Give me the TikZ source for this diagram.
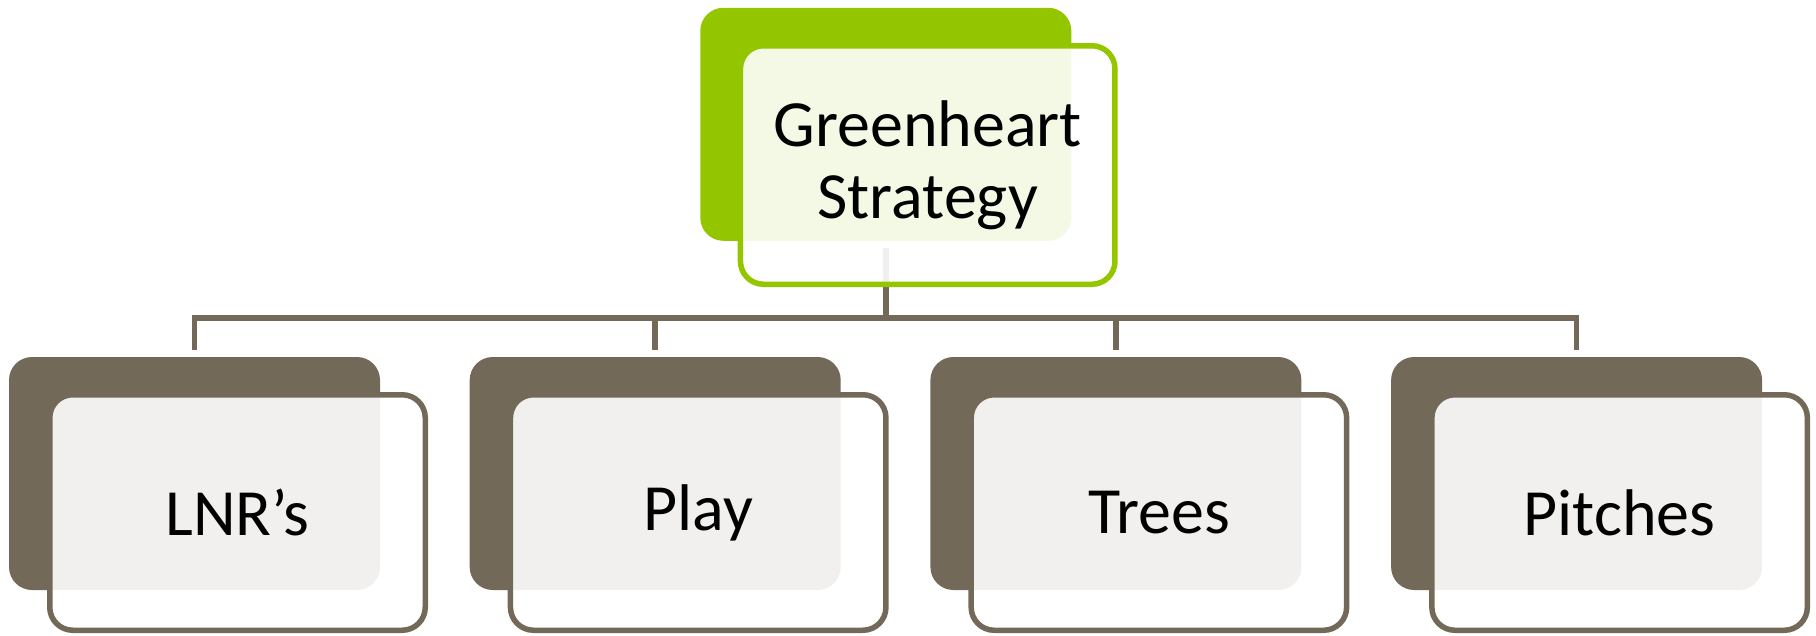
\documentclass[tikz,border=0pt]{standalone}
\usepackage{fontspec}
\setmainfont{Carlito}
\usetikzlibrary{calc,backgrounds}
\definecolor{leaf}{HTML}{94C600}
\definecolor{bark}{HTML}{736959}
\tikzset{
  backbox/.style={rectangle, rounded corners=23pt, minimum width=371pt, minimum height=233pt, inner sep=0pt, draw=none},
  frontbox/.style={rectangle, rounded corners=23pt, minimum width=375.5pt, minimum height=235.5pt, inner sep=0pt,
    line width=5.5pt, fill=white, fill opacity=0.9, text opacity=1, text=black, align=center,
    font=\fontsize{66}{72}\selectfont},
  conn/.style={draw=bark, line width=5.5pt},
}
\begin{document}
\begin{tikzpicture}[x=1pt, y=-1pt]
  \useasboundingbox (0,0) rectangle (1816,635);

  % root: Greenheart Strategy
  \node[backbox, fill=leaf] (rb) at (885.8,124.3) {};
  \node[frontbox, draw=leaf, minimum width=374.5pt, minimum height=238.5pt] (rf) at (927.7,165) {Greenheart\\Strategy};

  % four children
  \foreach \i/\lbl in {1/LNR’s, 2/Play, 3/Trees, 4/Pitches}{
    \node[backbox, fill=bark] (c\i b) at ({194.5+460.7*(\i-1)},473.5) {};
    \node[frontbox, draw=bark] (c\i f) at ({237.5+460.7*(\i-1)},512.5) {\lbl};
  }

  % connectors, drawn beneath the boxes
  \begin{pgfonlayer}{background}
    \draw[conn] ($(rb.south)+(0,7)$) -- ++(0,71);
    \draw[conn] ($(c1b.north)+(0,-7)$) -- ($(c1b.north)+(0,-39)$)
                -- ($(c4b.north)+(0,-39)$) -- ($(c4b.north)+(0,-7)$);
    \draw[conn] ($(c2b.north)+(0,-7)$) -- ($(c2b.north)+(0,-39)$);
    \draw[conn] ($(c3b.north)+(0,-7)$) -- ($(c3b.north)+(0,-39)$);
  \end{pgfonlayer}
\end{tikzpicture}
\end{document}
